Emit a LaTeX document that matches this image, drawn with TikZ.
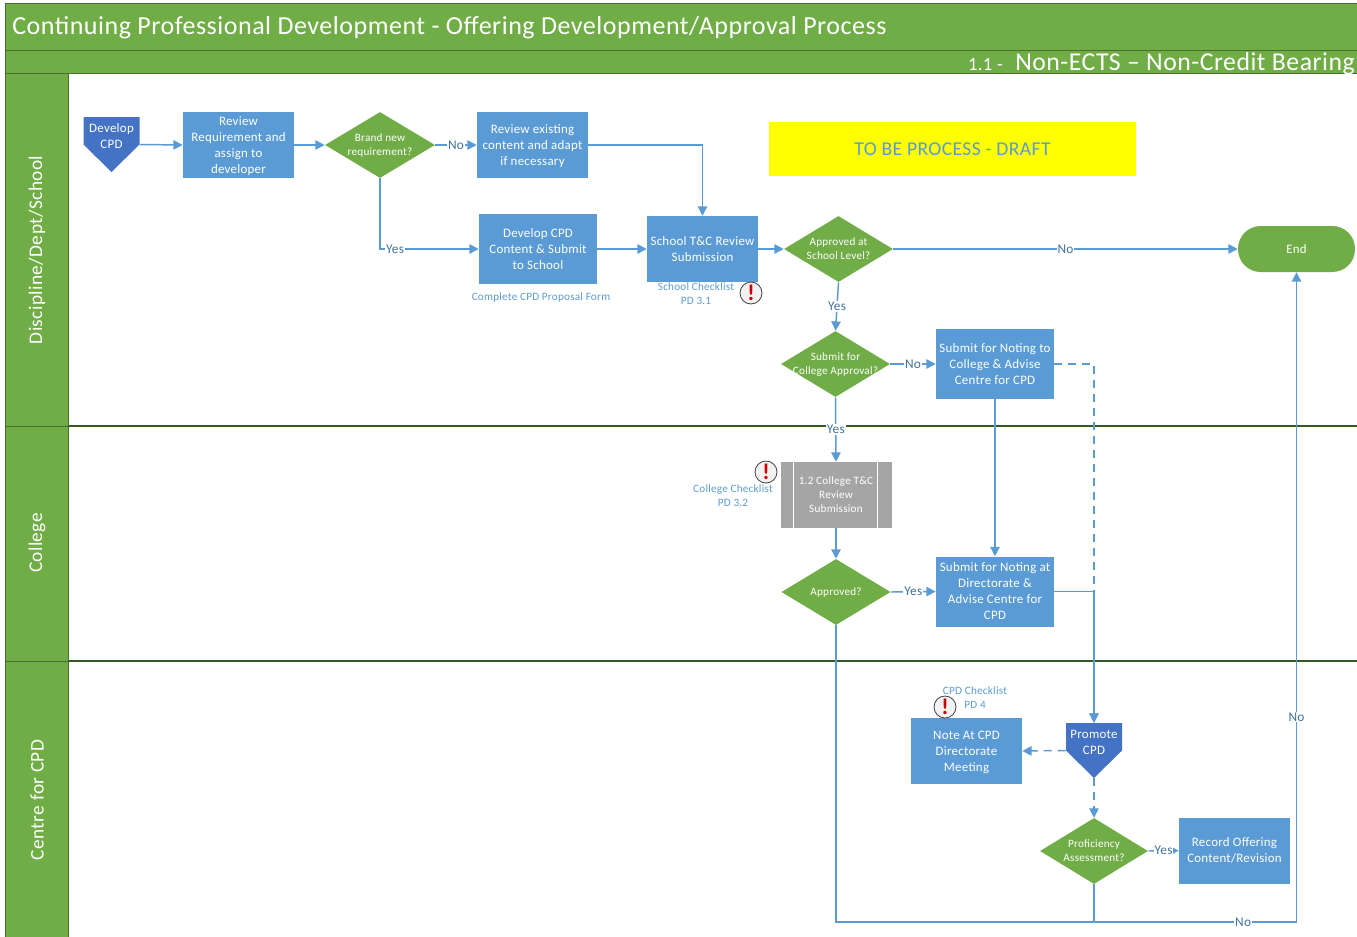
\documentclass[tikz,border=0pt]{standalone}
\usepackage{fontspec}
\setmainfont{Carlito}[LetterSpace=2]
\usepackage{xcolor}
\usetikzlibrary{arrows.meta, shapes.geometric}
\definecolor{bandgreen}{HTML}{70AD47}
\definecolor{bandedge}{HTML}{47702D}
\definecolor{laneedge}{HTML}{385723}
\definecolor{boxblue}{HTML}{5B9BD5}
\definecolor{pageblue}{HTML}{4472C4}
\definecolor{subgray}{HTML}{A5A5A5}
\definecolor{labelblue}{HTML}{41719C}
\definecolor{flagyellow}{HTML}{FFFF00}
\newcommand\ltext[1]{\raisebox{-0.75pt}[\height][\depth]{\begin{tabular}{@{}c@{}}#1\end{tabular}}}
\newcommand\qtext[1]{\raisebox{-0.3pt}[\height][\depth]{\makebox[0pt]{\begin{tabular}{@{}c@{}}#1\end{tabular}}}}
\tikzset{
  size/.style 2 args={minimum width=#1*0.75pt, minimum height=#2*0.75pt, inner sep=0pt},
  flowbox/.style={fill=boxblue, text=white, font=\fontsize{9.7}{12}\selectfont},
  question/.style={shape=diamond, fill=bandgreen, text=white, font=\fontsize{8.4}{10.5}\selectfont, size={#1}{66}},
  offpage/.style={text=white, font=\fontsize{9.7}{12}\selectfont, size={56}{55},
    path picture={\fill[pageblue] (path picture bounding box.north west) -- (path picture bounding box.north east)
      -- (path picture bounding box.east) -- (path picture bounding box.south) -- (path picture bounding box.west) -- cycle;}},
  subproc/.style={fill=subgray, text=white, align=center, font=\fontsize{8.4}{10.5}\selectfont, size={111}{66},
    path picture={\draw[white, line width=0.9pt] ([xshift=9.75pt]path picture bounding box.north west) -- ([xshift=9.75pt]path picture bounding box.south west);
      \draw[white, line width=0.9pt] ([xshift=-10.5pt]path picture bounding box.north east) -- ([xshift=-10.5pt]path picture bounding box.south east);}},
  link/.style={draw=boxblue, line width=1.1pt, -{Triangle[length=7pt, width=7pt]}},
  plainlink/.style={draw=boxblue, line width=1.1pt},
  dashlink/.style={link, dash pattern=on 6pt off 4.5pt},
  linklabel/.style={fill=white, text=labelblue, inner sep=0.6pt, font=\fontsize{10}{12}\selectfont},
  notetext/.style={text=boxblue, align=center, inner sep=0pt, font=\fontsize{8.4}{10.5}\selectfont},
  alertmark/.style={shape=circle, draw=black!75, fill=black!5, line width=0.6pt, minimum size=16.5pt, inner sep=0pt,
    text=red!80!black, font=\fontsize{17}{17}\bfseries\selectfont},
  lanelabel/.style={rotate=90, text=white, font=\fontsize{14.5}{18}\selectfont}
}
\begin{document}
\begin{tikzpicture}[x=0.75pt, y=-0.75pt]
    \useasboundingbox (0,0) rectangle (1357,936);

    % bands and lanes
    \draw[bandedge, fill=bandgreen, line width=0.7pt] (5,3) rectangle (1360,50);
    \draw[bandedge, fill=bandgreen, line width=0.7pt] (5,50) rectangle (1360,73);
    \foreach \top/\bottom in {73/426, 426/661, 661/945}
        \draw[bandedge, fill=bandgreen, line width=0.7pt] (5,\top) rectangle (68,\bottom);
    \draw[laneedge, line width=0.9pt] (68,426) -- (1360,426);
    \draw[laneedge, line width=0.9pt] (68,661) -- (1360,661);

    \node[anchor=west, text=white, inner sep=0pt, font=\fontsize{19.5}{22}\selectfont] (title) at (12,28) {Continuing Professional Development - Offering Development/Approval Process};
    \node[anchor=east, text=white, inner sep=0pt, font=\fontsize{19.3}{20}\selectfont] (subtitle) at (1355,64) {Non-ECTS -- Non-Credit Bearing};
    \node[anchor=east, text=white, inner sep=0pt, font=\fontsize{14}{14}\selectfont] (subnum) at (1003,65) {1.1 -};

    \node[lanelabel] (laneschool) at (37,250) {Discipline/Dept/School};
    \node[lanelabel] (lanecollege) at (37,543) {College};
    \node[lanelabel] (lanecentre) at (37,800) {Centre for CPD};

    \node[fill=flagyellow, text=boxblue, size={367}{54}, font=\fontsize{14.7}{16}\selectfont] (draftflag) at (952.5,149) {TO BE PROCESS - DRAFT};

    % notes sit below the boxes
    \node[notetext] (formnote) at (541,298) {Complete CPD Proposal Form};
    \node[notetext] (schoolnote) at (696,293.5) {School Checklist\\PD 3.1};
    \node[notetext] (collegenote) at (733,495.5) {College Checklist\\PD 3.2};
    \node[notetext] (cpdnote) at (975,697.5) {CPD Checklist\\PD 4};

    % steps
    \node[offpage] (develop) at (111.5,144.5) {\ltext{Develop\\CPD\\~}};
    \node[flowbox, size={111}{66}] (review) at (238.5,145) {\ltext{Review\\Requirement and\\assign to\\developer}};
    \node[question=110] (brandnew) at (380,145) {\qtext{Brand new\\requirement?}};
    \node[flowbox, size={111}{66}] (existing) at (532.5,145) {\ltext{Review existing\\content and adapt\\if necessary}};
    \node[flowbox, size={118}{70}] (content) at (538,249) {\ltext{Develop CPD\\Content \& Submit\\to School}};
    \node[flowbox, size={111}{66}] (schooltc) at (702.5,249) {\ltext{School T\&C Review\\Submission}};
    \node[question=109] (schoollevel) at (838.5,249) {\qtext{Approved at\\School Level?}};
    \node[fill=bandgreen, text=white, rounded corners=17pt, size={117}{46}, font=\fontsize{9.7}{12}\selectfont] (end) at (1296.5,249) {End};
    \node[question=109] (collegeappr) at (835.5,364) {\qtext{Submit for\\College Approval?}};
    \node[flowbox, size={118}{70}] (notingcollege) at (995,364) {\ltext{Submit for Noting to\\College \& Advise\\Centre for CPD}};
    \node[subproc] (collegetc) at (836,495) {1.2 College T\&C\\Review\\Submission};
    \node[question=109] (approved) at (836,592) {\qtext{Approved?}};
    \node[flowbox, size={118}{70}] (notingdir) at (995,591.5) {\ltext{Submit for Noting at\\Directorate \&\\Advise Centre for\\CPD}};
    \node[offpage] (promote) at (1094,750.5) {\ltext{Promote\\CPD\\~}};
    \node[flowbox, size={111}{66}] (directorate) at (966.5,751) {\ltext{Note At CPD\\Directorate\\Meeting}};
    \node[question=108] (proficiency) at (1094,851) {\qtext{Proficiency\\Assessment?}};
    \node[flowbox, size={111}{66}] (record) at (1234.5,850.5) {\ltext{Record Offering\\Content/Revision}};

    \foreach \Name/\X/\Y in {alertschool/751/293, alertcollege/766/472, alertcpd/945/707}
        \node[alertmark] (\Name) at (\X,\Y) {!};

    \coordinate (loop) at (1296.5,922);

    % connectors
    \draw[link] (develop.east) -- (review.west);
    \draw[link] (review.east) -- (brandnew.west);
    \draw[link] (brandnew.east) -- (existing.west) node[linklabel, pos=0.5] (labelA) {No};
    \draw[link] (existing.east) -| (schooltc.north);
    \draw[link] (brandnew.south) |- (content.west) node[linklabel, pos=0.576] (labelB) {Yes};
    \draw[link] (content.east) -- (schooltc.west);
    \draw[link] (schooltc.east) -- (schoollevel.west);
    \draw[link] (schoollevel.east) -- (end.west) node[linklabel, pos=0.5] (labelC) {No};
    \draw[link] (schoollevel.south) -- (collegeappr.north) node[linklabel, pos=0.5] (labelD) {Yes};
    \draw[link] (collegeappr.east) -- (notingcollege.west) node[linklabel, pos=0.5] (labelE) {No};
    \draw[link] (collegeappr.south) -- (collegetc.north) node[linklabel, pos=0.5] (labelF) {Yes};
    \draw[link] (collegetc.south) -- (approved.north);
    \draw[link] (approved.east) -- (notingdir.west) node[linklabel, pos=0.5] (labelG) {Yes};
    \draw[link] (notingcollege.south) -- (notingdir.north);
    \draw[dashlink] (notingcollege.east) -| (promote.north);
    \draw[link] (notingdir.east) -| (promote.north);
    \draw[dashlink] (promote.west) -- (directorate.east);
    \draw[dashlink] (promote.south) -- (proficiency.north);
    \draw[link] (proficiency.east) -- (record.west) node[linklabel, pos=0.5] (labelH) {Yes};
    \draw[plainlink] (proficiency.south) -- (proficiency.south |- loop);
    \draw[link] (approved.south) |- (loop) node[linklabel, pos=0.942] (labelI) {No} -- (end.south) node[linklabel, pos=0.315] (labelJ) {No};
  \end{tikzpicture}
\end{document}
